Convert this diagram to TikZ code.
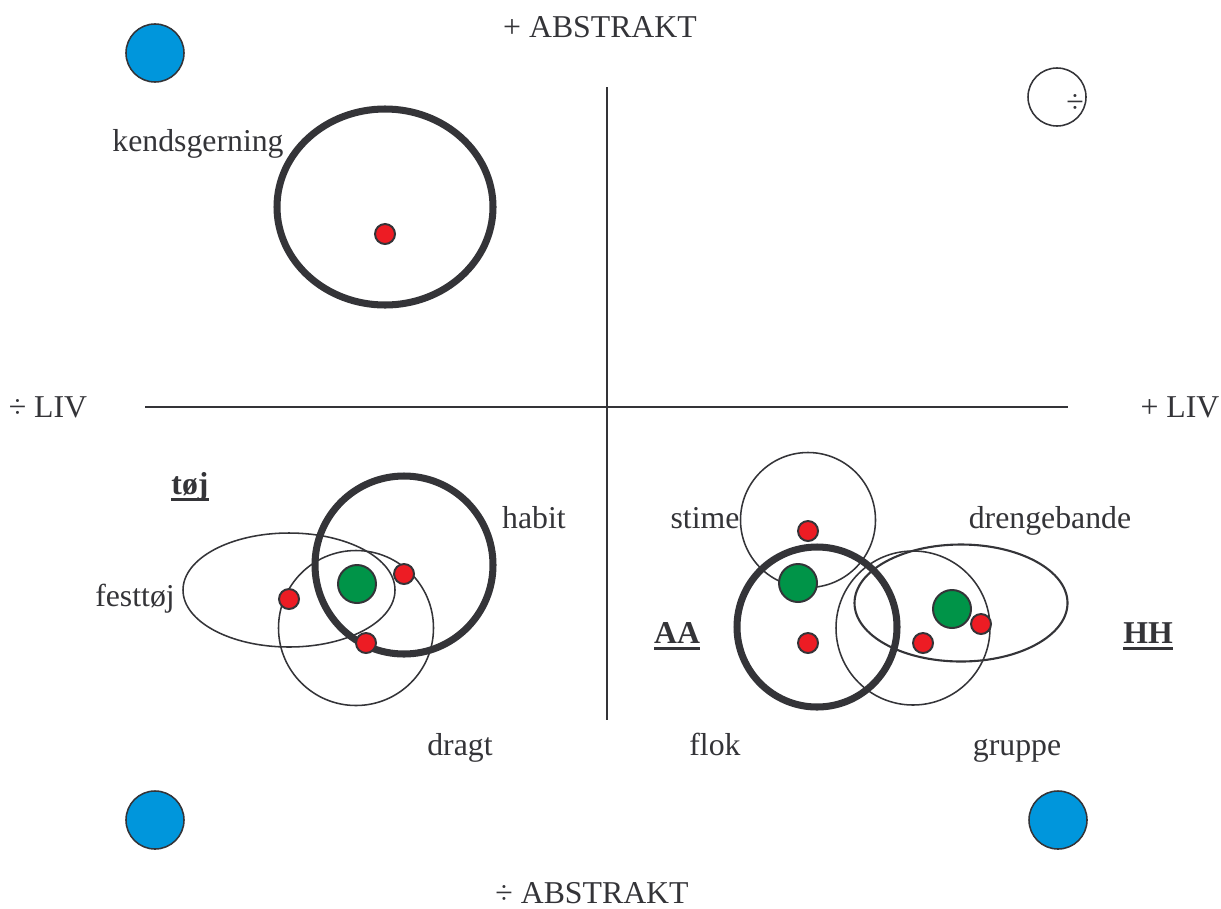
\documentclass[tikz,border=0pt]{standalone}
\usepackage{fontspec}
\setmainfont{Liberation Serif}
\definecolor{FieldDark}{RGB}{52, 52, 56}
\definecolor{FieldRed}{RGB}{237, 28, 36}
\definecolor{FieldGreen}{RGB}{0, 148, 72}
\definecolor{FieldBlue}{RGB}{0, 150, 220}
\usetikzlibrary{positioning}
% bold word with a heavy rule under it
\newcommand{\fieldhead}[1]{\setbox0\hbox{\bfseries #1}\rlap{\color{FieldDark}\vrule width\wd0 height -2.6pt depth 4.6pt}\box0}

\begin{document}
\begin{tikzpicture}[x=0.025cm, y=-0.025cm,
    word/.style={font=\fontsize{22.6}{27}\selectfont, text=FieldDark, inner sep=0pt, anchor=base},
    axis/.style={draw=FieldDark, line width=1.1pt},
    thinring/.style={draw=FieldDark, line width=1.1pt},
    wordring/.style={draw=FieldDark, line width=5pt},
    reddot/.style={circle, draw=FieldDark, line width=1.4pt, fill=FieldRed, minimum size=0.5cm, inner sep=0pt},
    greendot/.style={circle, draw=FieldDark, line width=1.4pt, fill=FieldGreen, minimum size=0.95cm, inner sep=0pt},
    corner/.style={circle, draw=FieldDark, line width=1.1pt, fill=FieldBlue, minimum size=1.45cm, inner sep=0pt}]
  \useasboundingbox (0,0) rectangle (1221,908);

  % axes
  \draw[axis] (607,87) -- (607,720);
  \draw[axis] (145,407) -- (1068,407);
  \node[word] (abstrPlus) at (600,37.5) {+ ABSTRAKT};
  \node[word] (abstrMinus) at (592,903.5) {÷ ABSTRAKT};
  \node[word] (livMinus) at (48,417.5) {÷ LIV};
  \node[word] (livPlus) at (1180,417.5) {+ LIV};

  % corner marks
  \node[corner] (cornerNW) at (155,53) {};
  \node[corner] (cornerSW) at (155,820) {};
  \node[corner] (cornerSE) at (1058,820) {};
  \node[circle, draw=FieldDark, line width=1.1pt, minimum size=1.45cm, inner sep=0pt] (cornerNE) at (1057,97) {};
  \node[word] (cornerSign) at (1075,112) {÷};

  % upper left: kendsgerning
  \draw[wordring] (385,207) ellipse [x radius=108, y radius=98];
  \node[reddot] (factDot) at (385,234) {};
  \node[word] (fact) at (198,151.5) {kendsgerning};

  % lower left: tøj
  \draw[thinring] (289,590) ellipse [x radius=106, y radius=57];
  \draw[thinring] (356,628) circle [radius=77.5];
  \draw[wordring] (404,565) circle [radius=89];
  \node[greendot] (clothCore) at (357,584) {};
  \node[reddot] (clothA) at (289,599) {};
  \node[reddot] (clothB) at (404,574) {};
  \node[reddot] (clothC) at (366,643) {};
  \node[word] (cloth) at (190,494.5) {\fieldhead{tøj}};
  \node[word] (habit) at (534,528.5) {habit};
  \node[word] (festive) at (135,606.5) {festtøj};
  \node[word] (costume) at (460,755.5) {dragt};

  % lower right: groups
  \draw[thinring] (808,520) circle [radius=67.5];
  \draw[thinring] (913,628) circle [radius=77];
  \draw[thinring, line width=1.5pt] (961,603) ellipse [x radius=106.5, y radius=58.5];
  \draw[wordring] (817,627) circle [radius=80];
  \node[greendot] (shoalCore) at (798,583) {};
  \node[reddot] (shoalDot) at (808,531) {};
  \node[reddot] (flockDot) at (808,643) {};
  \node[greendot] (gangCore) at (952,609) {};
  \node[reddot] (gangDot) at (981,624) {};
  \node[reddot] (groupDot) at (923,643) {};
  \node[word] (shoal) at (705,528.5) {stime};
  \node[word] (gang) at (1050,528.5) {drengebande};
  \node[word] (flock) at (715,755.5) {flok};
  \node[word] (group) at (1017,755.5) {gruppe};
  \node[word] (animals) at (677,643.5) {\fieldhead{AA}};
  \node[word] (humans) at (1148,643.5) {\fieldhead{HH}};
\end{tikzpicture}
\end{document}
